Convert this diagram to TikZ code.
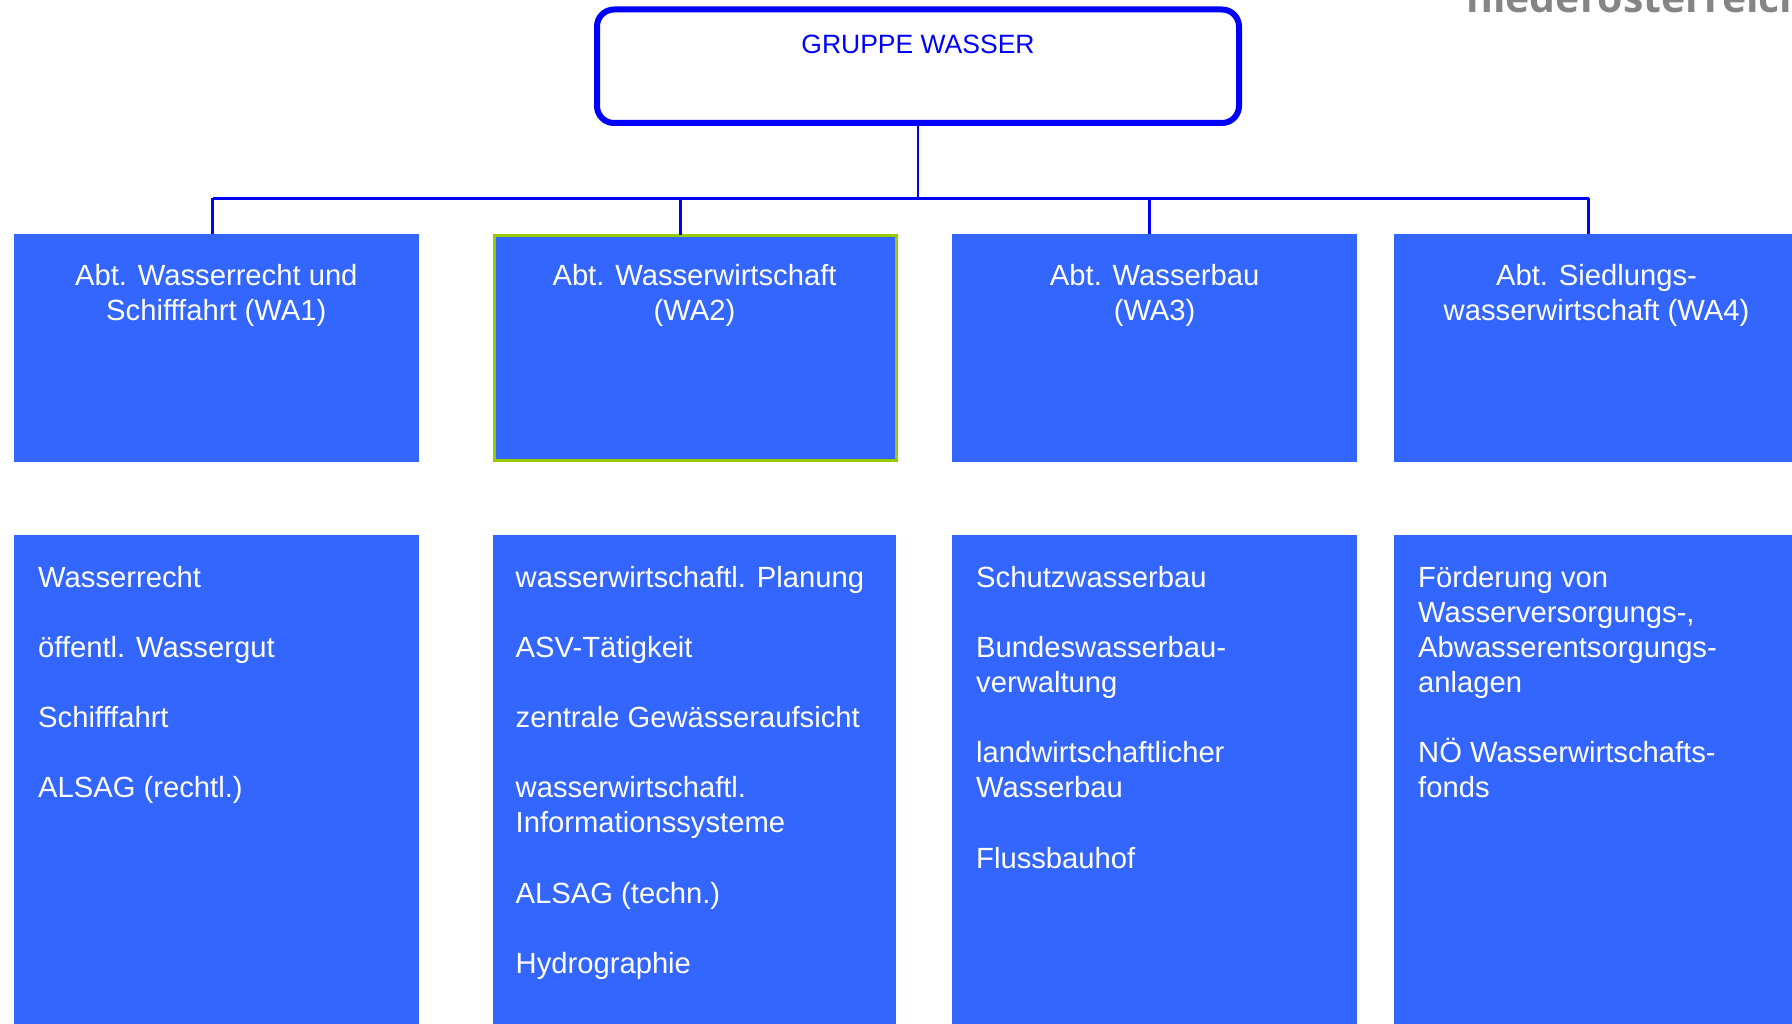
\documentclass[tikz,border=0pt]{standalone}
\usepackage{fontspec}
\setmainfont{Liberation Sans}
\newfontfamily\logofont{Open Sans}
\definecolor{boxblue}{HTML}{3366FF}
\definecolor{linkblue}{HTML}{0000FF}
\definecolor{hlgreen}{HTML}{99CC00}
\definecolor{logogray}{HTML}{858585}
\begin{document}
\begin{tikzpicture}[x=1pt,y=-1pt,
  box/.style={fill=boxblue, draw=none, anchor=north west, inner sep=0pt, outer sep=0pt},
  conn/.style={draw=linkblue, line width=2.5pt},
  head/.style={text=white, font=\fontsize{29.2}{35.1}\selectfont, align=center, anchor=north, inner sep=0pt},
  items/.style={text=white, font=\fontsize{29.2}{35.1}\selectfont, align=left, anchor=north west, inner sep=0pt},
  topbox/.style={draw=linkblue, line width=6pt, rounded corners=17pt, fill=white, inner sep=0pt, outer sep=0pt},
]
\useasboundingbox (0,0) rectangle (1792,1024);
\clip (0,0) rectangle (1792,1024);
\fill[white] (0,0) rectangle (1792,1024);

% logo (clipped at top edge, as in the reference)
\node[anchor=base west, inner sep=0pt, text=logogray, font=\logofont\bfseries\fontsize{41}{41}\selectfont] (logo) at (1466,12.5) {niederösterreich};

% top box
\node[topbox, minimum width=642pt, minimum height=113.5pt] (gruppe) at (918,66.25) {};
\node[anchor=base, inner sep=0pt, text=linkblue, font=\fontsize{26.5}{32}\selectfont] (gtitle) at (918,54) {GRUPPE WASSER};

% row 1 boxes
\node[box, minimum width=404.5pt, minimum height=228pt] (wa1) at (14,234) {};
\node[box, draw=hlgreen, line width=3pt, minimum width=402pt, minimum height=225pt] (wa2) at (494,235.5) {};
\node[box, minimum width=404.7pt, minimum height=228pt] (wa3) at (952.3,234) {};
\node[box, minimum width=405pt, minimum height=228pt] (wa4) at (1394,234) {};

\node[head] (h1) at (216.3,255) {\rule{0pt}{30pt}Abt. Wasserrecht und\\Schifffahrt (WA1)};
\node[head] (h2) at (694.5,255) {\rule{0pt}{30pt}Abt. Wasserwirtschaft\\(WA2)};
\node[head] (h3) at (1154.6,255) {\rule{0pt}{30pt}Abt. Wasserbau\\(WA3)};
\node[head] (h4) at (1596.5,255) {\rule{0pt}{30pt}Abt. Siedlungs-\\wasserwirtschaft (WA4)};

% row 2 boxes
\node[box, minimum width=404.5pt, minimum height=500pt] (b1) at (14,535) {};
\node[box, minimum width=403.5pt, minimum height=500pt] (b2) at (492.6,535) {};
\node[box, minimum width=404.7pt, minimum height=500pt] (b3) at (952.3,535) {};
\node[box, minimum width=405pt, minimum height=500pt] (b4) at (1394,535) {};

\node[items] (l1) at (38,557) {\rule{0pt}{30pt}Wasserrecht\\[35.1pt]öffentl. Wassergut\\[35.1pt]Schifffahrt\\[35.1pt]ALSAG (rechtl.)};
\node[items] (l2) at (515.5,557) {\rule{0pt}{30pt}wasserwirtschaftl. Planung\\[35.1pt]ASV-Tätigkeit\\[35.1pt]zentrale Gewässeraufsicht\\[35.1pt]wasserwirtschaftl.\\Informationssysteme\\[35.1pt]ALSAG (techn.)\\[35.1pt]Hydrographie};
\node[items] (l3) at (976,557) {\rule{0pt}{30pt}Schutzwasserbau\\[35.1pt]Bundeswasserbau-\\verwaltung\\[35.1pt]landwirtschaftlicher\\Wasserbau\\[35.1pt]Flussbauhof};
\node[items] (l4) at (1418,557) {\rule{0pt}{30pt}Förderung von\\Wasserversorgungs-,\\Abwasserentsorgungs-\\anlagen\\[35.1pt]NÖ Wasserwirtschafts-\\fonds};

% connectors
\coordinate (d1) at (212.6,198.5);
\coordinate (d2) at (680.7,198.5);
\coordinate (d3) at (1149.7,198.5);
\coordinate (d4) at (1588.7,198.5);
\draw[conn] (gruppe.south) -- (gruppe.south |- d1);
\draw[conn] (d1) -- (d4);
\draw[conn] (d1) -- (d1 |- wa1.north);
\draw[conn] (d2) -- (d2 |- wa2.north);
\draw[conn] (d3) -- (d3 |- wa3.north);
\draw[conn] (d4) -- (d4 |- wa4.north);
\end{tikzpicture}
\end{document}
